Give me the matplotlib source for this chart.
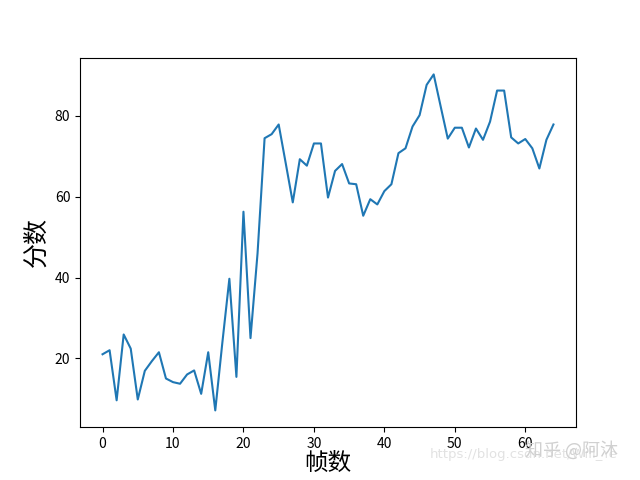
import numpy as np
import matplotlib
matplotlib.use("Agg")
import matplotlib.pyplot as plt

plt.rcParams['font.family'] = ['Noto Sans CJK SC', 'DejaVu Sans']

##
# score of each frame
frames = np.arange(65)
scores = [21.0, 22.0, 9.6, 25.9, 22.4, 9.8, 16.9, 19.3, 21.5, 15.0,
          14.1, 13.7, 16.0, 17.0, 11.2, 21.5, 7.1, 23.8, 39.7, 15.4,
          56.3, 25.0, 46.0, 74.5, 75.5, 77.9, 68.3, 58.6, 69.3, 67.7,
          73.2, 73.2, 59.8, 66.4, 68.1, 63.3, 63.1, 55.3, 59.4, 58.1,
          61.4, 63.1, 70.8, 72.0, 77.4, 80.2, 87.7, 90.3, 82.3, 74.4,
          77.1, 77.1, 72.2, 76.9, 74.1, 78.6, 86.3, 86.3, 74.7, 73.2,
          74.3, 72.0, 67.0, 74.1, 77.9]

x_label = "帧数"
y_label = "分数"

fig = plt.figure(figsize=(6.4, 4.8), dpi=100)
ax = fig.add_subplot(111)
ax.plot(frames, scores)
ax.set_xlabel(x_label, fontsize=17, labelpad=1)
ax.set_ylabel(y_label, fontsize=18)

# watermark of the source picture
fig.text(0.672, 0.045, "https://blog.csdn.net/Will_Ye", fontsize=9.5,
         color="#e2e2e2", family=['DejaVu Sans'])
fig.text(0.82, 0.05, "知乎 @阿沐", fontsize=13, color="#d0d0d0")

fig.savefig("out.png")
